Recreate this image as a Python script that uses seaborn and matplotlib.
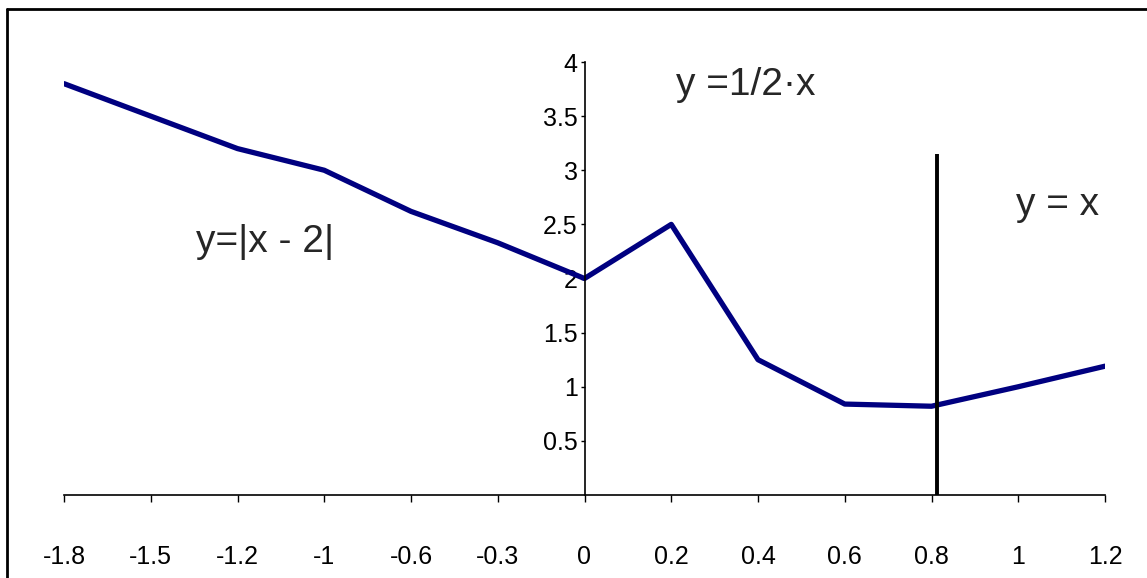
import pandas as pd
import matplotlib.pyplot as plt
import seaborn as sns
from matplotlib.lines import Line2D

x_labels = ['-1.8', '-1.5', '-1.2', '-1', '-0.6', '-0.3', '0', '0.2', '0.4', '0.6', '0.8', '1', '1.2']
y_values = [3.8, 3.5, 3.2, 3.0, 2.62, 2.33, 2.0, 2.5, 1.25, 0.84, 0.82, 1.0, 1.19]
y_ticks = [0.5, 1, 1.5, 2, 2.5, 3, 3.5, 4]

df = pd.DataFrame({'x': x_labels, 'y': y_values})

sns.set_style('white')
plt.rcParams['font.family'] = ['Liberation Sans', 'DejaVu Sans']

fig = plt.figure(figsize=(11.47, 5.78), dpi=100)
ax = fig.add_axes([64/1147, 1 - 495/578, (1105 - 64)/1147, (495 - 62)/578])

sns.lineplot(data=df, x='x', y='y', sort=False, color='#000080', linewidth=3.8, ax=ax)

ax.set_xlim(0, 12)
ax.set_ylim(0, 4)
ax.set_xlabel('')
ax.set_ylabel('')
ax.set_yticks(y_ticks)
ax.set_yticklabels(['0.5', '1', '1.5', '2', '2.5', '3', '3.5', '4'])

# axes in Excel style: y axis crosses at category "0"
zero_pos = x_labels.index('0')
ax.spines['left'].set_position(('data', zero_pos))
ax.spines['right'].set_visible(False)
ax.spines['top'].set_visible(False)
for s in ['left', 'bottom']:
    ax.spines[s].set_color('black')
    ax.spines[s].set_linewidth(1.2)
ax.tick_params(axis='both', direction='out', width=1, color='black',
               labelsize=18, labelcolor='black', left=True, bottom=True)
ax.tick_params(axis='x', length=5, pad=31)
ax.tick_params(axis='y', length=3, pad=2)

# vertical marker line just right of 0.8
ax.vlines(zero_pos + 4.06, 0, 3.15, color='black', linewidth=2.8)

ax.text(2.32, 2.34, 'y=|x - 2|', fontsize=28, ha='center', va='center')
ax.text(7.86, 3.79, 'y =1/2\u00b7x', fontsize=28, ha='center', va='center')
ax.text(11.45, 2.68, 'y = x', fontsize=28, ha='center', va='center')

# outer frame
fig.add_artist(Line2D([7/1147, 1], [1 - 9/578, 1 - 9/578], color='black', linewidth=2, transform=fig.transFigure))
fig.add_artist(Line2D([7/1147, 7/1147], [0, 1 - 9/578], color='black', linewidth=2, transform=fig.transFigure))

fig.savefig('out.png', dpi=100)
